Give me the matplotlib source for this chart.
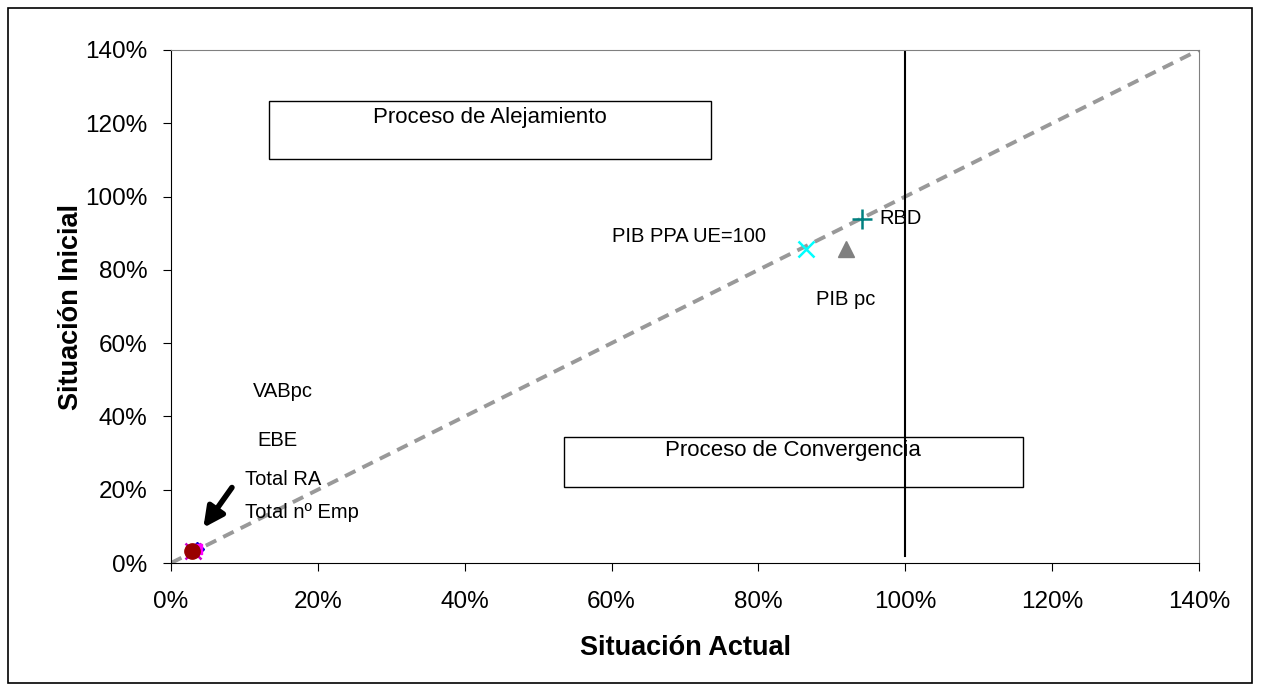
import matplotlib.pyplot as plt
from matplotlib.patches import Rectangle
from matplotlib.ticker import PercentFormatter

plt.rcParams['font.family'] = ['Liberation Sans', 'DejaVu Sans']

# ----------------------------------------------------------
# Data (situación actual, situación inicial) in %
# ----------------------------------------------------------

rbd = (94.1, 93.9)
pib_ppa = (86.5, 85.7)
pib_pc = (91.9, 85.7)
cluster_x_mark = (3.0, 3.3)
cluster_diamond = (3.6, 3.7)
cluster_circle = (2.9, 3.4)

ticks = [0, 20, 40, 60, 80, 100, 120, 140]

labels = ["PIB PPA UE=100", "RBD", "PIB pc", "VABpc", "EBE", "Total RA", "Total nº Emp"]
label_x = [70.5, 96.5, 91.9, 15.2, 14.5, 15.3, 17.9]
label_y = [89.2, 93.9, 71.8, 46.7, 33.3, 22.7, 13.9]
label_ha = ["center", "left", "center", "center", "center", "center", "center"]

# ----------------------------------------------------------
# Figure
# ----------------------------------------------------------

fig = plt.figure(figsize=(12.61, 6.91), dpi=100)
ax = fig.add_axes([171 / 1261, 1 - 563 / 691, 1028 / 1261, 513 / 691])

fig.patches.append(Rectangle((8 / 1261, 8 / 691), 1244 / 1261, 675 / 691,
                             transform=fig.transFigure, fill=False,
                             edgecolor="black", linewidth=1.2))

ax.set_xlim(0, 140)
ax.set_ylim(0, 140)
ax.set_xticks(ticks)
ax.set_yticks(ticks)
ax.xaxis.set_major_formatter(PercentFormatter(decimals=0))
ax.yaxis.set_major_formatter(PercentFormatter(decimals=0))
ax.tick_params(labelsize=17.5, direction="out", length=6)
ax.tick_params(axis="y", pad=11)
ax.tick_params(axis="x", pad=14)
ax.spines["top"].set_color("gray")
ax.spines["right"].set_color("gray")

# diagonal
ax.plot([0, 140], [0, 140], linestyle=(0, (3, 2)), color="#999999", linewidth=2.8, zorder=2)

# 100% line
ax.plot([100, 100], [1.9, 140], color="black", linewidth=1.5, zorder=2)

# points
ax.plot(*rbd, marker="+", color="#008080", markersize=14, mew=1.8, zorder=3)
ax.plot(*pib_ppa, marker="x", color="#00FFFF", markersize=12, mew=1.8, zorder=3)
ax.plot(*pib_pc, marker="^", color="#808080", markersize=11, zorder=3)
ax.plot(*cluster_x_mark, marker="x", color="#CC00CC", markersize=11, mew=1.8, zorder=3)
ax.plot(*cluster_diamond, marker="D", color="#0000CC", markersize=7, zorder=3)
ax.plot(*cluster_diamond, marker="s", color="#FF00FF", markersize=7, zorder=3)
ax.plot(*cluster_circle, marker="o", color="#990000", markersize=11, zorder=4)

# labels
for t, x, y, ha in zip(labels, label_x, label_y, label_ha):
    ax.text(x, y, t, ha=ha, va="center", fontsize=14.5)

# boxes
ax.add_patch(Rectangle((13.3, 110.3), 60.2, 15.8, fill=False, edgecolor="black", linewidth=1))
ax.text(43.4, 121.5, "Proceso de Alejamiento", ha="center", va="center", fontsize=16)
ax.add_patch(Rectangle((53.5, 20.7), 62.5, 13.7, fill=False, edgecolor="black", linewidth=1))
ax.text(84.7, 30.6, "Proceso de Convergencia", ha="center", va="center", fontsize=16)

# arrow
ax.annotate("", xy=(4.4, 9.6), xytext=(8.3, 20.6),
            arrowprops=dict(arrowstyle="-|>", color="black", lw=4, mutation_scale=30,
                            shrinkA=0, shrinkB=0))

ax.set_xlabel("Situación Actual", fontsize=19.5, fontweight="bold", labelpad=16)
ax.set_ylabel("Situación Inicial", fontsize=19.5, fontweight="bold", labelpad=1)

plt.savefig("out.png", dpi=100)
